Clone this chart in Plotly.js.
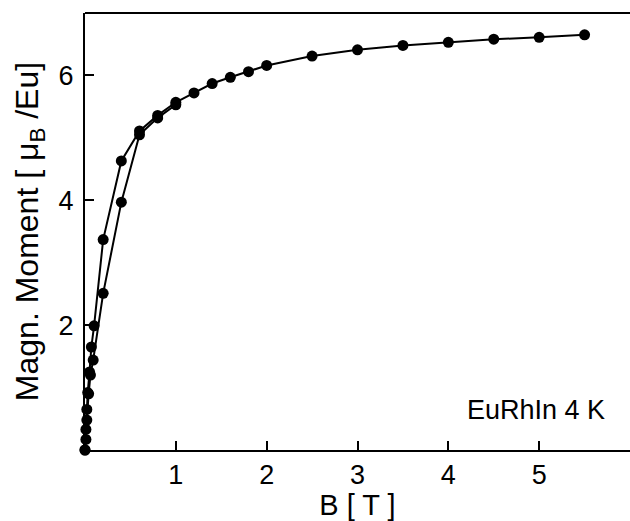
<!DOCTYPE html>
<html>
<head>
<meta charset="utf-8">
<script src="https://cdn.plot.ly/plotly-3.0.1.min.js"></script>
<style>html,body{margin:0;padding:0;background:#fff;}#chart{width:630px;height:521px;}</style>
</head>
<body>
<div id="chart"></div>
<script>
// Branch A (upper curve at low field)
var fieldA  = [0, 0.01, 0.02, 0.03, 0.05, 0.07, 0.1, 0.2, 0.4, 0.6, 0.8, 1.0, 1.2, 1.4, 1.6, 1.8, 2.0, 2.5, 3.0, 3.5, 4.0, 4.5, 5.0, 5.5];
var momentA = [0, 0.33, 0.65, 0.92, 1.25, 1.65, 1.99, 3.37, 4.63, 5.11, 5.36, 5.57, 5.72, 5.87, 5.97, 6.06, 6.16, 6.31, 6.41, 6.48, 6.53, 6.58, 6.61, 6.65];
// Branch B (lower curve at low field)
var fieldB  = [0, 0.01, 0.02, 0.04, 0.06, 0.09, 0.2, 0.4, 0.6, 0.8, 1.0];
var momentB = [0, 0.17, 0.48, 0.9, 1.2, 1.44, 2.51, 3.97, 5.05, 5.32, 5.53];
var xTicks = [1, 2, 3, 4, 5];
var yTicks = [2, 4, 6];
var sampleLabel = "EuRhIn 4 K";

var lineStyle = {color: '#000', width: 2};
var markerStyle = {color: '#000', size: 11};
var traces = [
  {x: fieldA, y: momentA, mode: 'lines+markers', line: lineStyle, marker: markerStyle, cliponaxis: false, showlegend: false},
  {x: fieldB, y: momentB, mode: 'lines+markers', line: lineStyle, marker: markerStyle, cliponaxis: false, showlegend: false}
];
var fam = 'Liberation Sans, Arial, sans-serif';
var tickFont = {family: fam, size: 27, color: '#000'};
var xTitleFont = {family: fam, size: 29, color: '#000'};
var yTitleFont = {family: fam, size: 32, color: '#000'};
var noteFont = {family: fam, size: 27, color: '#000'};
var layout = {
  width: 630, height: 521,
  margin: {l: 85, r: 0, t: 13, b: 71},
  paper_bgcolor: '#fff', plot_bgcolor: '#fff',
  font: xTitleFont,
  xaxis: {
    range: [0, 6], tickvals: xTicks, ticktext: xTicks.map(String),
    ticks: 'inside', ticklen: 9, tickwidth: 2, tickcolor: '#000',
    showline: true, linecolor: '#000', linewidth: 2, showgrid: false, zeroline: false,
    tickfont: tickFont, ticklabelstandoff: 0, automargin: false,
    title: {text: 'B [ T ]', font: xTitleFont, standoff: 2}
  },
  yaxis: {
    range: [0, 7], tickvals: yTicks, ticktext: yTicks.map(String),
    ticks: 'inside', ticklen: 9, tickwidth: 2, tickcolor: '#000',
    showline: true, linecolor: '#000', linewidth: 2, showgrid: false, zeroline: false,
    tickfont: tickFont, ticklabelstandoff: 4, automargin: false,
    title: {text: 'Magn. Moment [ μ<sub>B</sub> /Eu]', font: yTitleFont, standoff: 10}
  },
  shapes: [{type: 'line', xref: 'paper', yref: 'paper', x0: 0, x1: 1, y0: 1, y1: 1, line: {color: '#000', width: 2}}],
  annotations: [{xref: 'x', yref: 'y', x: 5.75, y: 0.64, text: sampleLabel, showarrow: false, xanchor: 'right', yanchor: 'middle', font: noteFont}]
};
Plotly.newPlot('chart', traces, layout, {displayModeBar: false, staticPlot: true});
</script>
</body>
</html>
